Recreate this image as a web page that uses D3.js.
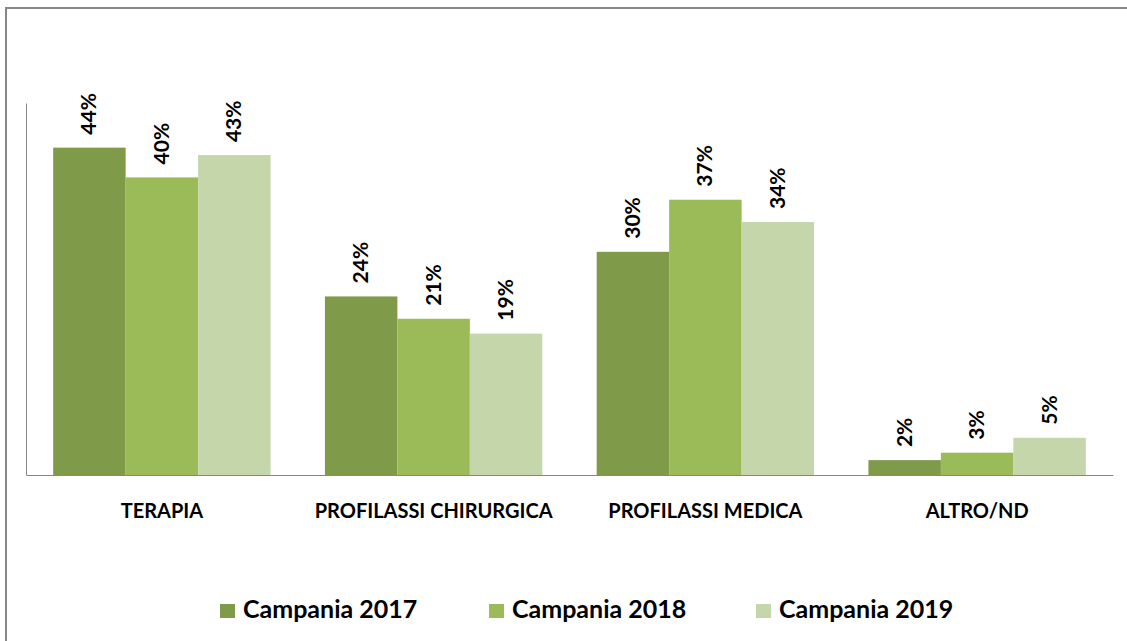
<!DOCTYPE html>
<html>
<head>
<meta charset="utf-8">
<script src="https://cdn.jsdelivr.net/npm/d3@7"></script>
<style>
  html, body { margin: 0; padding: 0; background: #fff; }
  svg { display: block; font-family: Lato, "Liberation Sans", sans-serif; }
</style>
</head>
<body>
<svg id="chart" width="1127" height="641"></svg>
<script>
// Categories and series
const categories = ["TERAPIA", "PROFILASSI CHIRURGICA", "PROFILASSI MEDICA", "ALTRO/ND"];
const seriesNames = ["Campania 2017", "Campania 2018", "Campania 2019"];
const values2017 = [44, 24, 30, 2];
const values2018 = [40, 21, 37, 3];
const values2019 = [43, 19, 34, 5];
const seriesColors = ["#7f9a48", "#9bbb59", "#c6d6ab"];

const seriesValues = [values2017, values2018, values2019];
const rows = categories.map((c, i) => ({
  category: c,
  bars: seriesNames.map((s, j) => ({ series: s, value: seriesValues[j][i] }))
}));

const svg = d3.select("#chart");

// Outer frame of the chart area
svg.append("rect")
  .attr("x", 6).attr("y", 8)
  .attr("width", 1200).attr("height", 700)
  .attr("fill", "none")
  .attr("stroke", "#878787")
  .attr("stroke-width", 2);

const plot = { left: 26, right: 1113, top: 103, bottom: 475 };

const x0 = d3.scaleBand()
  .domain(categories)
  .range([plot.left, plot.right])
  .padding(0);

const x1 = d3.scaleBand()
  .domain(seriesNames)
  .range([x0.bandwidth() * 0.1, x0.bandwidth() * 0.9])
  .padding(0);

const y = d3.scaleLinear()
  .domain([0, 50])
  .range([plot.bottom, plot.top]);

const color = d3.scaleOrdinal().domain(seriesNames).range(seriesColors);

// Bars
const groups = svg.append("g").selectAll("g")
  .data(rows)
  .join("g")
  .attr("transform", d => `translate(${x0(d.category)},0)`);

groups.selectAll("rect")
  .data(d => d.bars)
  .join("rect")
  .attr("x", d => x1(d.series))
  .attr("y", d => y(d.value))
  .attr("width", x1.bandwidth())
  .attr("height", d => y(0) - y(d.value))
  .attr("fill", d => color(d.series));

// Value labels, rotated above each bar
groups.selectAll("text")
  .data(d => d.bars)
  .join("text")
  .attr("transform", d => `translate(${x1(d.series) + x1.bandwidth() / 2 + 7},${y(d.value) - 13}) rotate(-90)`)
  .attr("text-anchor", "start")
  .attr("font-size", 21)
  .attr("font-weight", "bold")
  .attr("fill", "#000")
  .text(d => d.value + "%");

// Axes: vertical line on the left, baseline at zero
const yAxis = svg.append("g")
  .attr("transform", `translate(${plot.left},0)`)
  .call(d3.axisLeft(y).ticks(0).tickSize(0).tickSizeOuter(0).tickFormat(""));
yAxis.select(".domain").attr("stroke", "#888");

const xAxis = svg.append("g")
  .attr("transform", `translate(0,${plot.bottom})`)
  .call(d3.axisBottom(x0).tickSize(0).tickSizeOuter(0).tickPadding(43));
xAxis.select(".domain").attr("stroke", "#888");
xAxis.selectAll("text")
  .attr("font-family", "Lato, 'Liberation Sans', sans-serif")
  .attr("font-size", 20)
  .attr("font-weight", "bold")
  .attr("fill", "#000")
  .attr("dy", 0);

// Legend
const legendX = [220, 489, 756];
const legend = svg.append("g").selectAll("g")
  .data(seriesNames)
  .join("g")
  .attr("transform", (d, i) => `translate(${legendX[i]},604)`);

legend.append("rect")
  .attr("width", 15).attr("height", 14)
  .attr("fill", d => color(d));

legend.append("text")
  .attr("x", 23).attr("y", 14)
  .attr("font-size", 25)
  .attr("font-weight", "bold")
  .attr("fill", "#000")
  .text(d => d);
</script>
</body>
</html>
